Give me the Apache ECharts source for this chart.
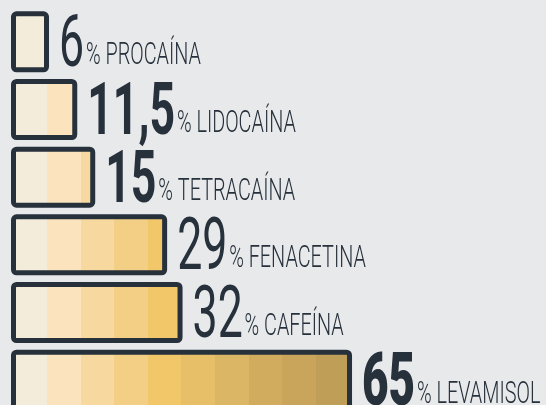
<!DOCTYPE html>
<html>
<head>
<meta charset="utf-8">
<script src="https://cdn.jsdelivr.net/npm/echarts@6/dist/echarts.min.js"></script>
<style>
  html, body { margin: 0; padding: 0; background: #e8e9eb; }
  #chart { width: 546px; height: 405px; }
</style>
</head>
<body>
<div id="chart"></div>
<script>
// datos
const substances = ['PROCAÍNA', 'LIDOCAÍNA', 'TETRACAÍNA', 'FENACETINA', 'CAFEÍNA', 'LEVAMISOL']
const percents = [6, 11.5, 15, 29, 32, 65]

// estilo
const stripeColors = ['#f4ecdb', '#fae3bd', '#f7d9a0', '#f3cf85', '#f2c76a',
  '#e6bf68', '#dbb665', '#d1ac5f', '#c8a55b', '#bf9f58']
const numberWeights = ['normal', 'bold', 'bold', 'normal', 'normal', 900]
const numberSizes = [72, 72, 72, 72, 72, 74]
const nameSize = 32
const ink = '#27313c'

// gradiente con cortes duros (franjas), en coordenadas de pantalla
const stops = []
stripeColors.forEach((c, i) => {
  stops.push({ offset: i / stripeColors.length, color: c })
  stops.push({ offset: (i + 1) / stripeColors.length, color: c })
})
const stripes = new echarts.graphic.LinearGradient(13.5, 0, 349.5, 0, stops, true)

// etiqueta: numero grande + "% NOMBRE", estrechada horizontalmente
const renderLabel = (params, api) => {
  const v = api.value(0)
  const i = api.value(1)
  const pos = api.coord([v, i])
  const size = numberSizes[i]
  return {
    type: 'text',
    x: pos[0] + 10,
    y: pos[1] + 21.5 + 0.29 * size,
    scaleX: 0.62,
    style: {
      text: '{n|' + String(v).replace('.', ',') + '}{t|% ' + substances[i] + '}',
      align: 'left',
      verticalAlign: 'bottom',
      rich: {
        n: { fontFamily: 'Roboto', fontWeight: numberWeights[i], fontSize: size, fill: ink, verticalAlign: 'bottom' },
        t: {
          fontFamily: 'Roboto', fontWeight: 300, fontSize: nameSize, fill: ink, verticalAlign: 'bottom',
          padding: [0, 0, 0.3 * (size - nameSize), 3]
        }
      }
    }
  }
}

const chart = echarts.init(document.getElementById('chart'))

chart.setOption({
  backgroundColor: '#e8e9eb',
  animation: false,
  grid: { left: 11, width: 513.6, top: 8, height: 406, outerBoundsMode: 'none' },
  xAxis: { type: 'value', min: -1.4, max: 98.6, startValue: -1.4, show: false },
  yAxis: { type: 'category', data: substances, inverse: true, show: false },
  series: [
    {
      type: 'bar',
      data: percents,
      barWidth: 61,
      itemStyle: { color: stripes, borderColor: ink, borderWidth: 5, borderRadius: 3 }
    },
    {
      type: 'custom',
      data: percents.map((v, i) => [v, i]),
      encode: { x: 0, y: 1 },
      renderItem: renderLabel,
      silent: true
    }
  ]
})
</script>
</body>
</html>
